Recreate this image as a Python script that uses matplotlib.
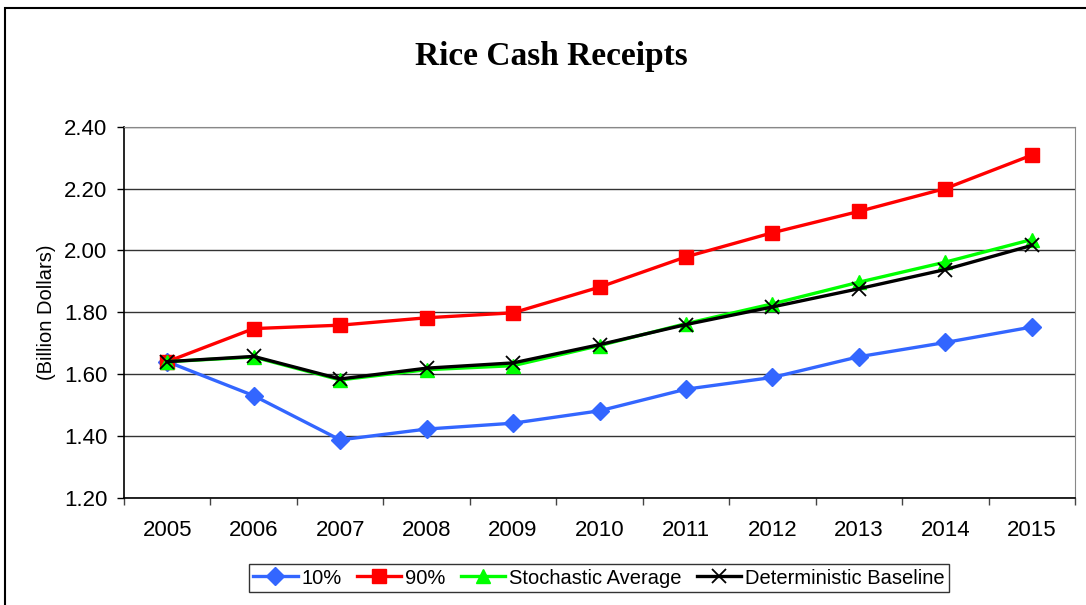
import matplotlib
matplotlib.use('Agg')
import matplotlib.pyplot as plt
from matplotlib.patches import Rectangle

years = ['2005', '2006', '2007', '2008', '2009', '2010',
         '2011', '2012', '2013', '2014', '2015']
p10 = [1.64, 1.53, 1.387, 1.422, 1.441, 1.481, 1.551, 1.589, 1.656, 1.702, 1.752]
p90 = [1.64, 1.747, 1.758, 1.782, 1.798, 1.881, 1.979, 2.057, 2.126, 2.200, 2.308]
stoch_avg = [1.64, 1.655, 1.581, 1.614, 1.627, 1.692, 1.763, 1.827, 1.897, 1.962, 2.035]
det_base = [1.64, 1.657, 1.584, 1.619, 1.636, 1.695, 1.760, 1.817, 1.876, 1.938, 2.016]
yticks = [1.20, 1.40, 1.60, 1.80, 2.00, 2.20, 2.40]

plt.rcParams['font.family'] = ['Liberation Sans', 'DejaVu Sans']

fig = plt.figure(figsize=(10.86, 6.05), dpi=100)
ax = fig.add_axes([124/1086, 1-497.7/605, (1075-124)/1086, (497.7-126.7)/605])

x = list(range(len(years)))
ax.plot(x, p10, color='#3366FF', lw=2.4, marker='D', ms=9, label='10%', zorder=3)
ax.plot(x, p90, color='#FF0000', lw=2.4, marker='s', ms=10, label='90%', zorder=4)
ax.plot(x, stoch_avg, color='#00FF00', lw=2.4, marker='^', ms=10, label='Stochastic Average', zorder=5)
ax.plot(x, det_base, color='#000000', lw=2.4, marker='x', ms=10, mew=1.3, label='Deterministic Baseline', zorder=6)

ax.set_xlim(-0.5, len(years) - 0.5)
ax.set_ylim(1.2, 2.4)
ax.set_yticks(yticks)
ax.set_yticklabels(['%.2f' % v for v in yticks], fontsize=16)
ax.set_xticks(x)
ax.set_xticklabels(years, fontsize=16)
ax.set_xticks([i - 0.5 for i in range(len(years) + 1)], minor=True)
ax.tick_params(axis='x', which='major', length=0, pad=16)
ax.tick_params(axis='x', which='minor', length=5, width=1, direction='out', color='#444444')
ax.tick_params(axis='y', length=5, width=1, direction='out', pad=7)
ax.grid(axis='y', color='#333333', lw=1.0, zorder=1)

for side in ['top', 'right']:
    ax.spines[side].set_color('#888888')
for side in ['left', 'bottom']:
    ax.spines[side].set_color('#000000')
    ax.spines[side].set_linewidth(1.2)

fig.text(551/1086, 1-56/605, 'Rice Cash Receipts', ha='center', va='center',
         fontsize=24, fontweight='bold', family=['Liberation Serif', 'DejaVu Serif'])
fig.text(46/1086, 1-312/605, '(Billion Dollars)', rotation=90, ha='center', va='center',
         fontsize=14.5)

leg = fig.legend(loc='center', bbox_to_anchor=(599/1086, 1-578/605), ncol=4,
                 fontsize=14.5, frameon=True, fancybox=False, handlelength=2.2,
                 handletextpad=0.2, columnspacing=0.75, borderpad=0.2,
                 borderaxespad=0)
leg.get_frame().set_edgecolor('black')
leg.get_frame().set_linewidth(1.0)

fig.patches.append(Rectangle((5/1086, -0.2), 1.2, 1 - 8/605 + 0.2,
                             transform=fig.transFigure, fill=False,
                             edgecolor='black', lw=1.5, zorder=0))

fig.savefig('out.png', dpi=100)
